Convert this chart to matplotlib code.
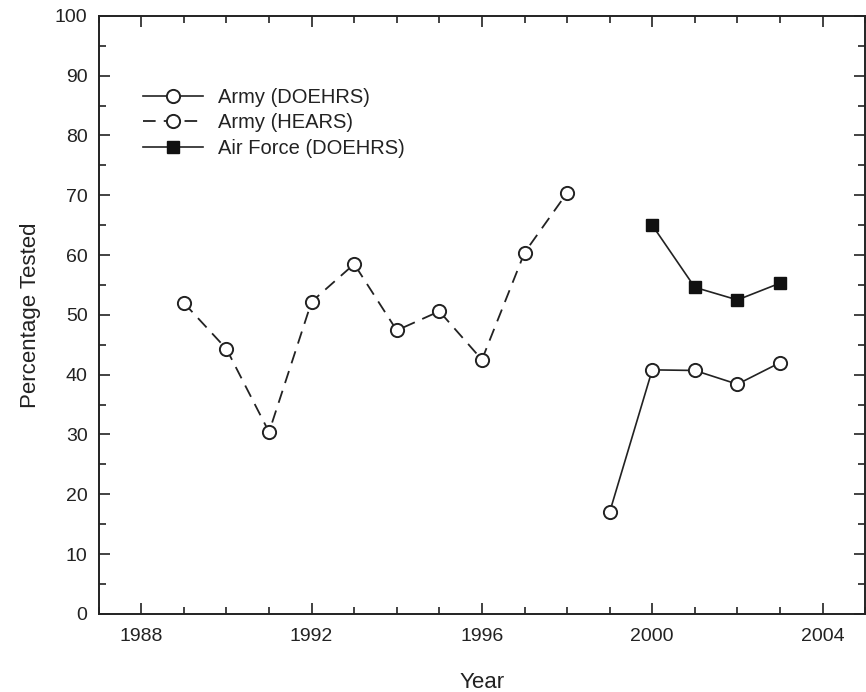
import numpy as np
import matplotlib
matplotlib.use('Agg')
from matplotlib import pyplot as plt
from matplotlib.ticker import MultipleLocator

plt.rcParams['font.family'] = ['Liberation Sans', 'DejaVu Sans']

# data
hearsYears = [1989, 1990, 1991, 1992, 1993, 1994, 1995, 1996, 1997, 1998]
hearsPct = [52.0, 44.3, 30.4, 52.2, 58.5, 47.4, 50.6, 42.5, 60.4, 70.4]
armyYears = [1999, 2000, 2001, 2002, 2003]
armyPct = [17.0, 40.8, 40.7, 38.4, 42.0]
afYears = [2000, 2001, 2002, 2003]
afPct = [65.0, 54.6, 52.5, 55.3]

fig = plt.figure(figsize=(8.66, 6.92), dpi=100)
ax = fig.add_axes([0.114, 0.113, 0.885, 0.864])

ms = 9.5
ax.plot(armyYears, armyPct, color='#222222', lw=1.2, marker='o', ms=ms,
        mfc='white', mec='#222222', mew=1.4, label='Army (DOEHRS)')
ax.plot(hearsYears, hearsPct, color='#222222', lw=1.3, dashes=(7, 4.5), marker='o', ms=ms,
        mfc='white', mec='#222222', mew=1.4, label='Army (HEARS)')
ax.plot(afYears, afPct, color='#222222', lw=1.2, marker='s', ms=8,
        mfc='#111111', mec='#111111', label='Air Force (DOEHRS)')

ax.set_xlim(1987, 2005)
ax.set_ylim(0, 100)
ax.xaxis.set_major_locator(MultipleLocator(4))
ax.xaxis.set_minor_locator(MultipleLocator(1))
ax.yaxis.set_major_locator(MultipleLocator(10))
ax.yaxis.set_minor_locator(MultipleLocator(5))
ax.set_xticks([1988, 1992, 1996, 2000, 2004])

ax.tick_params(which='both', direction='in', top=True, right=True,
               width=1.2, color='#222222', labelsize=14, labelcolor='#222222')
ax.tick_params(which='major', length=8)
ax.tick_params(axis='x', which='major', pad=10)
ax.tick_params(axis='y', which='major', pad=8)
ax.tick_params(which='minor', length=5)
for s in ax.spines.values():
    s.set_linewidth(1.4)
    s.set_color('#222222')

ax.set_xlabel('Year', fontsize=16, labelpad=20, color='#222222')
ax.set_ylabel('Percentage Tested', fontsize=16, labelpad=10, color='#222222')

ax.legend(loc='upper left', bbox_to_anchor=(0.0574, 0.88), frameon=False,
          borderpad=0, borderaxespad=0,
          fontsize=14.5, handlelength=3.0, handletextpad=0.75, labelspacing=0.33,
          labelcolor='#222222')

plt.savefig('out.png', dpi=100)
